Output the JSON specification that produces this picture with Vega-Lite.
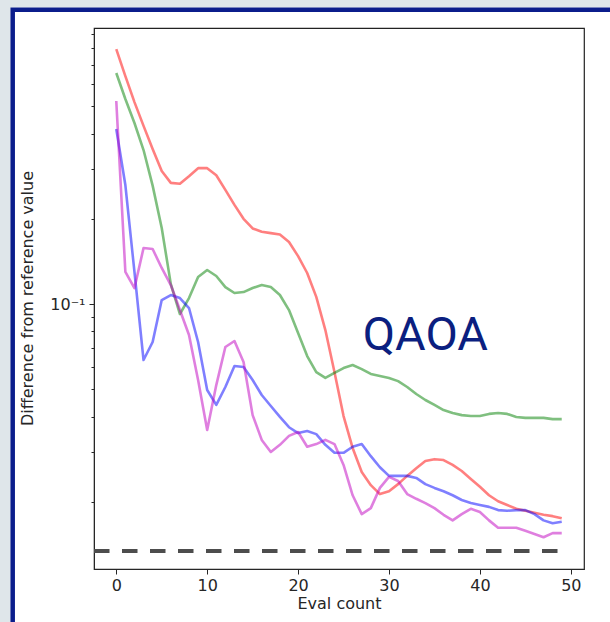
{
  "$schema": "https://vega.github.io/schema/vega-lite/v6.json",
  "autosize": {"type": "none"},
  "padding": {"left": 94, "top": 28, "right": 26, "bottom": 53},
  "width": 490,
  "height": 541,
  "background": "white",
  "config": {
    "view": {"stroke": "#222222", "strokeWidth": 1.2, "fill": "white"},
    "axis": {
      "labelFont": "DejaVu Sans",
      "labelFontSize": 16,
      "labelColor": "#262626",
      "titleFont": "DejaVu Sans",
      "titleFontSize": 16,
      "titleFontWeight": "normal",
      "titleColor": "#262626",
      "tickColor": "#262626",
      "domainColor": "#262626",
      "grid": false,
      "zindex": 1
    }
  },
  "datasets": {
    "runs": [
      {"x":0,"s":"a","y":0.796},{"x":1,"s":"a","y":0.639},{"x":2,"s":"a","y":0.517},{"x":3,"s":"a","y":0.426},{"x":4,"s":"a","y":0.353},
      {"x":5,"s":"a","y":0.295},{"x":6,"s":"a","y":0.268},{"x":7,"s":"a","y":0.266},{"x":8,"s":"a","y":0.283},{"x":9,"s":"a","y":0.302},
      {"x":10,"s":"a","y":0.302},{"x":11,"s":"a","y":0.285},{"x":12,"s":"a","y":0.253},{"x":13,"s":"a","y":0.224},{"x":14,"s":"a","y":0.200},
      {"x":15,"s":"a","y":0.185},{"x":16,"s":"a","y":0.180},{"x":17,"s":"a","y":0.178},{"x":18,"s":"a","y":0.176},{"x":19,"s":"a","y":0.1656},
      {"x":20,"s":"a","y":0.1477},{"x":21,"s":"a","y":0.1287},{"x":22,"s":"a","y":0.106},{"x":23,"s":"a","y":0.0809},{"x":24,"s":"a","y":0.0575},
      {"x":25,"s":"a","y":0.0402},{"x":26,"s":"a","y":0.0310},{"x":27,"s":"a","y":0.0255},{"x":28,"s":"a","y":0.0229},{"x":29,"s":"a","y":0.0213},
      {"x":30,"s":"a","y":0.0218},{"x":31,"s":"a","y":0.0231},{"x":32,"s":"a","y":0.0247},{"x":33,"s":"a","y":0.0263},{"x":34,"s":"a","y":0.0279},
      {"x":35,"s":"a","y":0.0283},{"x":36,"s":"a","y":0.0281},{"x":37,"s":"a","y":0.0270},{"x":38,"s":"a","y":0.0257},{"x":39,"s":"a","y":0.0241},
      {"x":40,"s":"a","y":0.0226},{"x":41,"s":"a","y":0.0211},{"x":42,"s":"a","y":0.0201},{"x":43,"s":"a","y":0.0195},{"x":44,"s":"a","y":0.0189},
      {"x":45,"s":"a","y":0.0186},{"x":46,"s":"a","y":0.0183},{"x":47,"s":"a","y":0.0180},{"x":48,"s":"a","y":0.0178},{"x":49,"s":"a","y":0.0175},

      {"x":0,"s":"b","y":0.655},{"x":1,"s":"b","y":0.530},{"x":2,"s":"b","y":0.436},{"x":3,"s":"b","y":0.350},{"x":4,"s":"b","y":0.262},
      {"x":5,"s":"b","y":0.1856},{"x":6,"s":"b","y":0.1176},{"x":7,"s":"b","y":0.0922},{"x":8,"s":"b","y":0.1050},{"x":9,"s":"b","y":0.1246},
      {"x":10,"s":"b","y":0.1319},{"x":11,"s":"b","y":0.1256},{"x":12,"s":"b","y":0.1148},{"x":13,"s":"b","y":0.1094},{"x":14,"s":"b","y":0.1102},
      {"x":15,"s":"b","y":0.1139},{"x":16,"s":"b","y":0.1167},{"x":17,"s":"b","y":0.1148},{"x":18,"s":"b","y":0.1076},{"x":19,"s":"b","y":0.0952},
      {"x":20,"s":"b","y":0.0790},{"x":21,"s":"b","y":0.0655},{"x":22,"s":"b","y":0.0575},{"x":23,"s":"b","y":0.0548},{"x":24,"s":"b","y":0.0571},
      {"x":25,"s":"b","y":0.0594},{"x":26,"s":"b","y":0.0609},{"x":27,"s":"b","y":0.0589},{"x":28,"s":"b","y":0.0566},{"x":29,"s":"b","y":0.0557},
      {"x":30,"s":"b","y":0.0548},{"x":31,"s":"b","y":0.0534},{"x":32,"s":"b","y":0.0509},{"x":33,"s":"b","y":0.0481},{"x":34,"s":"b","y":0.0458},
      {"x":35,"s":"b","y":0.0440},{"x":36,"s":"b","y":0.0422},{"x":37,"s":"b","y":0.0412},{"x":38,"s":"b","y":0.0405},{"x":39,"s":"b","y":0.0402},
      {"x":40,"s":"b","y":0.0402},{"x":41,"s":"b","y":0.0409},{"x":42,"s":"b","y":0.0412},{"x":43,"s":"b","y":0.0409},{"x":44,"s":"b","y":0.0399},
      {"x":45,"s":"b","y":0.0396},{"x":46,"s":"b","y":0.0396},{"x":47,"s":"b","y":0.0396},{"x":48,"s":"b","y":0.0392},{"x":49,"s":"b","y":0.0392},

      {"x":0,"s":"c","y":0.4153},{"x":1,"s":"c","y":0.2633},{"x":2,"s":"c","y":0.1298},{"x":3,"s":"c","y":0.0634},{"x":4,"s":"c","y":0.0734},
      {"x":5,"s":"c","y":0.1033},{"x":6,"s":"c","y":0.1076},{"x":7,"s":"c","y":0.1050},{"x":8,"s":"c","y":0.0968},{"x":9,"s":"c","y":0.0734},
      {"x":10,"s":"c","y":0.0497},{"x":11,"s":"c","y":0.0440},{"x":12,"s":"c","y":0.0509},{"x":13,"s":"c","y":0.0604},{"x":14,"s":"c","y":0.0599},
      {"x":15,"s":"c","y":0.0539},{"x":16,"s":"c","y":0.0477},{"x":17,"s":"c","y":0.0436},{"x":18,"s":"c","y":0.0399},{"x":19,"s":"c","y":0.0367},
      {"x":20,"s":"c","y":0.0350},{"x":21,"s":"c","y":0.0356},{"x":22,"s":"c","y":0.0347},{"x":23,"s":"c","y":0.0318},{"x":24,"s":"c","y":0.0298},
      {"x":25,"s":"c","y":0.0298},{"x":26,"s":"c","y":0.0313},{"x":27,"s":"c","y":0.0320},{"x":28,"s":"c","y":0.0290},{"x":29,"s":"c","y":0.0265},
      {"x":30,"s":"c","y":0.0247},{"x":31,"s":"c","y":0.0247},{"x":32,"s":"c","y":0.0247},{"x":33,"s":"c","y":0.0243},{"x":34,"s":"c","y":0.0231},
      {"x":35,"s":"c","y":0.0224},{"x":36,"s":"c","y":0.0218},{"x":37,"s":"c","y":0.0211},{"x":38,"s":"c","y":0.0203},{"x":39,"s":"c","y":0.0198},
      {"x":40,"s":"c","y":0.0195},{"x":41,"s":"c","y":0.0192},{"x":42,"s":"c","y":0.0187},{"x":43,"s":"c","y":0.0186},{"x":44,"s":"c","y":0.0187},
      {"x":45,"s":"c","y":0.0187},{"x":46,"s":"c","y":0.0181},{"x":47,"s":"c","y":0.0172},{"x":48,"s":"c","y":0.0168},{"x":49,"s":"c","y":0.0170},

      {"x":0,"s":"d","y":0.5215},{"x":1,"s":"d","y":0.1298},{"x":2,"s":"d","y":0.1139},{"x":3,"s":"d","y":0.1577},{"x":4,"s":"d","y":0.1564},
      {"x":5,"s":"d","y":0.1341},{"x":6,"s":"d","y":0.1167},{"x":7,"s":"d","y":0.0952},{"x":8,"s":"d","y":0.0777},{"x":9,"s":"d","y":0.0539},
      {"x":10,"s":"d","y":0.0359},{"x":11,"s":"d","y":0.0517},{"x":12,"s":"d","y":0.0705},{"x":13,"s":"d","y":0.0740},{"x":14,"s":"d","y":0.0624},
      {"x":15,"s":"d","y":0.0405},{"x":16,"s":"d","y":0.0331},{"x":17,"s":"d","y":0.0300},{"x":18,"s":"d","y":0.0318},{"x":19,"s":"d","y":0.0342},
      {"x":20,"s":"d","y":0.0353},{"x":21,"s":"d","y":0.0313},{"x":22,"s":"d","y":0.0320},{"x":23,"s":"d","y":0.0331},{"x":24,"s":"d","y":0.0320},
      {"x":25,"s":"d","y":0.0270},{"x":26,"s":"d","y":0.0211},{"x":27,"s":"d","y":0.0181},{"x":28,"s":"d","y":0.0190},{"x":29,"s":"d","y":0.0224},
      {"x":30,"s":"d","y":0.0245},{"x":31,"s":"d","y":0.0237},{"x":32,"s":"d","y":0.0213},{"x":33,"s":"d","y":0.0205},{"x":34,"s":"d","y":0.0198},
      {"x":35,"s":"d","y":0.0190},{"x":36,"s":"d","y":0.0180},{"x":37,"s":"d","y":0.0172},{"x":38,"s":"d","y":0.0181},{"x":39,"s":"d","y":0.0189},
      {"x":40,"s":"d","y":0.0184},{"x":41,"s":"d","y":0.0172},{"x":42,"s":"d","y":0.0162},{"x":43,"s":"d","y":0.0162},{"x":44,"s":"d","y":0.0162},
      {"x":45,"s":"d","y":0.0158},{"x":46,"s":"d","y":0.0154},{"x":47,"s":"d","y":0.0150},{"x":48,"s":"d","y":0.0155},{"x":49,"s":"d","y":0.0155}
    ]
  },
  "layer": [
    {
      "data": {"values": [{}]},
      "mark": {"type": "rect", "fill": "#dfe6ea", "stroke": null},
      "encoding": {"x": {"value": -100}, "x2": {"value": -83.5}, "y": {"value": -40}, "y2": {"value": 700}}
    },
    {
      "data": {"values": [{}]},
      "mark": {"type": "rect", "fill": "#dfe6ea", "stroke": null},
      "encoding": {"x": {"value": -100}, "x2": {"value": 700}, "y": {"value": -40}, "y2": {"value": -20.5}}
    },
    {
      "data": {"values": [{}]},
      "mark": {"type": "rect", "fill": null, "stroke": "#0b1d8c", "strokeWidth": 4.5},
      "encoding": {"x": {"value": -81.3}, "x2": {"value": 700}, "y": {"value": -18.3}, "y2": {"value": 700}}
    },
    {
      "data": {"name": "runs"},
      "mark": {"type": "line", "strokeWidth": 2.6, "opacity": 0.5, "clip": true, "strokeJoin": "round"},
      "encoding": {
        "x": {
          "field": "x", "type": "quantitative",
          "scale": {"domain": [-2.45, 51.45], "nice": false, "zero": false},
          "axis": {"values": [0, 10, 20, 30, 40, 50], "title": "Eval count", "tickSize": 5, "labelPadding": 3, "titleY": 34, "titleBaseline": "middle", "labelFlush": false}
        },
        "y": {
          "field": "y", "type": "quantitative",
          "scale": {"type": "log", "domain": [0.01158, 0.9447], "nice": false},
          "axis": {
            "values": [0.02, 0.03, 0.04, 0.05, 0.06, 0.07, 0.08, 0.09, 0.1, 0.2, 0.3, 0.4, 0.5, 0.6, 0.7, 0.8, 0.9],
            "labelExpr": "datum.value == 0.1 ? '10⁻¹' : ''",
            "tickSize": {"condition": {"test": "datum.value == 0.1", "value": 5}, "value": 3},
            "labelPadding": 4,
            "title": "Difference from reference value",
            "titleX": -67,
            "titleY": 270,
            "titleAngle": -90,
            "titleAlign": "center",
            "titleBaseline": "middle",
            "labelFlush": false,
            "labelOverlap": false
          }
        },
        "color": {
          "field": "s", "type": "nominal",
          "scale": {"domain": ["a", "b", "c", "d"], "range": ["#ff0000", "#008000", "#0000ff", "#bf00bf"]},
          "legend": null
        },
        "order": {"field": "x", "type": "quantitative"}
      }
    },
    {
      "data": {"values": [{}]},
      "mark": {"type": "rule", "color": "#4d4d4d", "strokeWidth": 4, "strokeDash": [15.5, 12.5]},
      "encoding": {
        "x": {"datum": -2.45, "type": "quantitative"},
        "x2": {"datum": 49},
        "y": {"datum": 0.0134, "type": "quantitative"}
      }
    },
    {
      "data": {"values": [{}]},
      "mark": {"type": "text", "text": "QAOA", "font": "Roboto", "fontSize": 47, "color": "#0b1f80", "align": "center", "baseline": "alphabetic"},
      "encoding": {
        "x": {"datum": 34, "type": "quantitative"},
        "y": {"datum": 0.0688, "type": "quantitative"}
      }
    }
  ]
}
